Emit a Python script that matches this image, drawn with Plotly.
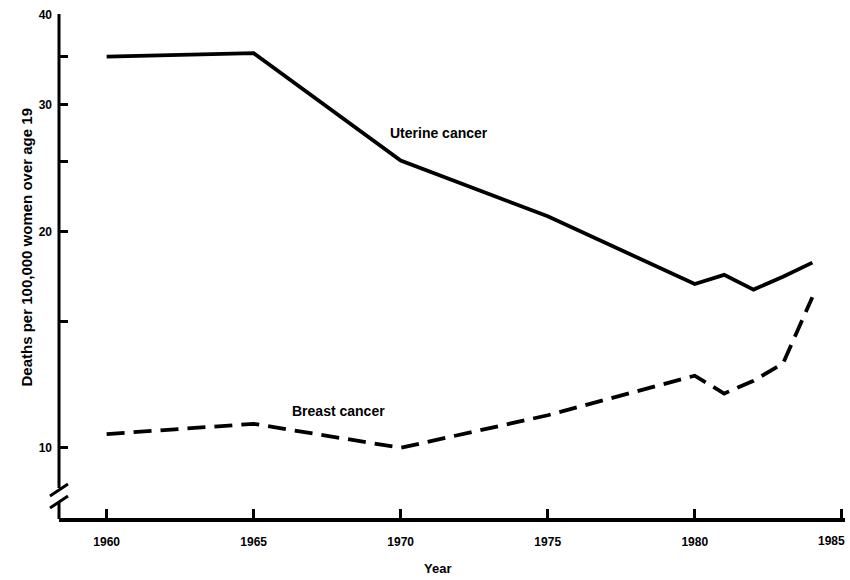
import math
import plotly.graph_objects as go

years = [1960, 1965, 1970, 1975, 1980, 1981, 1982, 1983, 1984]
uterine = [35.0, 35.4, 25.1, 21.0, 16.9, 17.4, 16.6, 17.3, 18.1]
breast = [10.45, 10.8, 10.0, 11.1, 12.6, 11.9, 12.4, 13.1, 16.2]

x_ticks = [1960, 1965, 1970, 1975, 1980, 1985]
x_ticklabels = ["1960", "1965", "1970", "1975", "1980", "1985"]
y_ticks = [10, 15, 20, 25, 30, 35, 40]
y_ticklabels = ["10", "", "20", "", "30", "", "40"]

W, H = 850, 580
L, R, T, B = 59, 5, 15, 62
pw, ph = W - L - R, H - T - B

def px(xp):
    return (xp - L) / pw

def py(yp):
    return (H - B - yp) / ph

FONT = "Liberation Sans Narrow, Arial Narrow, Liberation Sans, Arial"

fig = go.Figure()
fig.add_trace(go.Scatter(x=years, y=uterine, mode="lines",
                         line=dict(color="black", width=3.8),
                         name="Uterine cancer", showlegend=False))
fig.add_trace(go.Scatter(x=years, y=breast, mode="lines",
                         line=dict(color="black", width=3.8, dash="18px,9px"),
                         name="Breast cancer", showlegend=False))

fig.add_annotation(x=1971.3, y=math.log10(27.4), text="<b>Uterine cancer</b>", showarrow=False,
                   font=dict(family=FONT, size=14, color="black"))
fig.add_annotation(x=1967.9, y=math.log10(11.25), text="<b>Breast cancer</b>", showarrow=False,
                   font=dict(family=FONT, size=14, color="black"))

fig.add_annotation(x=px(15), y=py(248), xref="paper", yref="paper",
                   text="<b>Deaths per 100,000 women over age 19</b>", textangle=-90,
                   showarrow=False, font=dict(family=FONT, size=15, color="black"))
fig.add_annotation(x=px(437), y=py(568), xref="paper", yref="paper",
                   xanchor="center", yanchor="middle",
                   text="<b>Year</b>", showarrow=False,
                   font=dict(family=FONT, size=13, color="black"))

# last x tick label sits flush with the page edge, as in the reference
fig.add_annotation(x=px(847), y=py(541), xref="paper", yref="paper",
                   xanchor="right", yanchor="middle",
                   text="<b>" + x_ticklabels[-1] + "</b>", showarrow=False,
                   font=dict(family=FONT, size=12, color="black"))
x_ticktext = x_ticklabels[:-1] + [""]

# y axis line with break
lw = 3
fig.add_shape(type="line", xref="paper", yref="paper",
              x0=px(59), x1=px(59), y0=py(14), y1=py(488),
              line=dict(color="black", width=lw))
fig.add_shape(type="line", xref="paper", yref="paper",
              x0=px(59), x1=px(59), y0=py(502), y1=py(519),
              line=dict(color="black", width=lw))
fig.add_shape(type="line", xref="paper", yref="paper",
              x0=px(50), x1=px(68), y0=py(496), y1=py(484),
              line=dict(color="black", width=lw))
fig.add_shape(type="line", xref="paper", yref="paper",
              x0=px(50), x1=px(68), y0=py(508), y1=py(496),
              line=dict(color="black", width=lw))

fig.update_xaxes(range=[1958.38, 1985.11], tickvals=x_ticks, ticktext=x_ticktext,
                 ticks="inside", ticklen=9, tickwidth=3, tickcolor="black",
                 showline=True, linecolor="black", linewidth=3.5, automargin=False,
                 showgrid=False, zeroline=False, ticklabelstandoff=10,
                 tickfont=dict(family=FONT, size=12, color="black", weight="bold"))
fig.update_yaxes(type="log", range=[0.9024, 1.6021], tickvals=y_ticks, ticktext=y_ticklabels,
                 ticks="inside", ticklen=9, tickwidth=3, tickcolor="black",
                 showline=False, showgrid=False, zeroline=False, ticklabelstandoff=6,
                 automargin=False,
                 tickfont=dict(family=FONT, size=12, color="black", weight="bold"))

fig.update_layout(width=W, height=H, margin=dict(l=L, r=R, t=T, b=B),
                  plot_bgcolor="white", paper_bgcolor="white")

fig.write_html("out.html", config={"displayModeBar": False},
               post_script="document.body.style.margin='0';document.body.style.padding='0';")
